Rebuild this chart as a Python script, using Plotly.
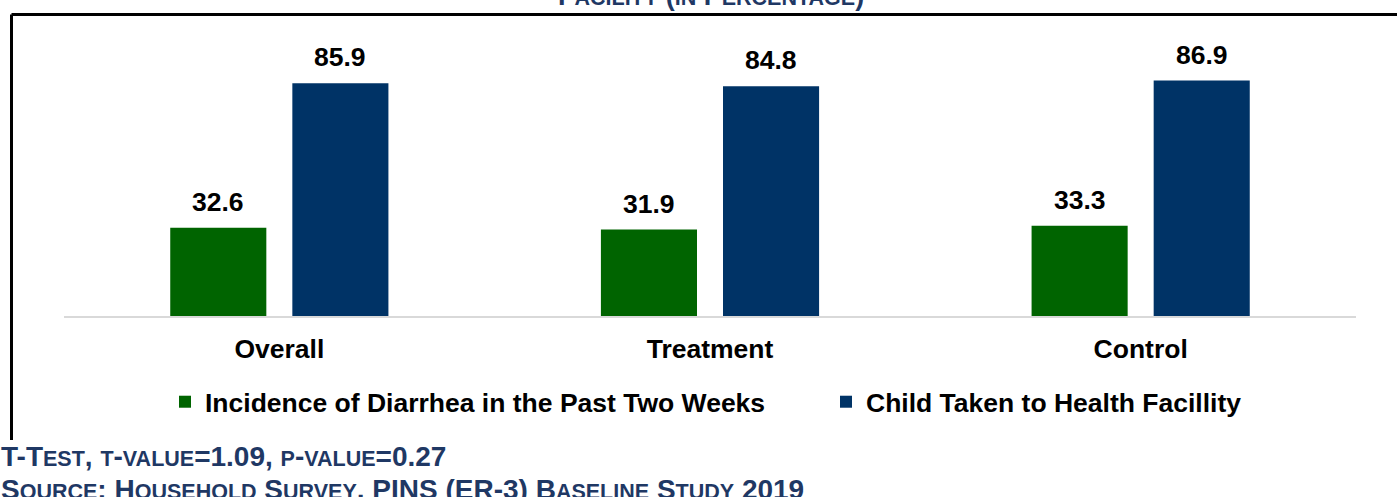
import plotly.graph_objects as go

# Survey results (percent)
categories = ["Overall", "Treatment", "Control"]
diarrhea_incidence = [32.6, 31.9, 33.3]
taken_to_facility = [85.9, 84.8, 86.9]
series_names = ["Incidence of Diarrhea in the Past Two Weeks", "Child Taken to Health Facillity"]

GREEN = "#006400"
NAVY = "#003366"
NOTE_BLUE = "#1F3864"

W, H = 1397, 497
M_L, M_R, M_T, M_B = 64, 41, 45, 181
PLOT_W = W - M_L - M_R
PLOT_H = H - M_T - M_B


def px_x(px):
    """Pixel column -> paper x."""
    return (px - M_L) / PLOT_W


def px_y(py):
    """Pixel row -> paper y."""
    return (H - M_B - py) / PLOT_H


SANS = "Liberation Sans, Arial, sans-serif"
TEXT_SIZE = 26.5
LABEL_FONT = dict(family=SANS, size=TEXT_SIZE, color="black", weight="bold")
NARROW = "Liberation Sans Narrow, Arial Narrow, Liberation Sans, sans-serif"

fig = go.Figure()
fig.add_trace(go.Bar(x=categories, y=diarrhea_incidence, name=series_names[0],
                     marker=dict(color=GREEN, line=dict(width=0)), legend="legend"))
fig.add_trace(go.Bar(x=categories, y=taken_to_facility, name=series_names[1],
                     marker=dict(color=NAVY, line=dict(width=0)), legend="legend2"))

# Value labels above each bar
annotations = []
for series, shift in ((diarrhea_incidence, -61), (taken_to_facility, 61)):
    for cat, val in zip(categories, series):
        annotations.append(dict(x=cat, y=val, xref="x", yref="y", text=f"{val:.1f}",
                                showarrow=False, xshift=shift, yshift=9,
                                yanchor="bottom", font=LABEL_FONT))


def small_caps(text, small):
    out = []
    for ch in text:
        if ch.islower():
            out.append(f'<span style="font-size:{small}px">{ch.upper()}</span>')
        else:
            out.append(ch)
    return "".join(out)


NOTE_BIG, NOTE_SMALL = 28, 21.5
annotations.append(dict(
    x=px_x(711), y=px_y(-4), xref="paper", yref="paper", xanchor="center", yanchor="middle",
    text=small_caps("Facility (in Percentage)", NOTE_SMALL), showarrow=False,
    font=dict(family=NARROW, size=27, color=NOTE_BLUE, weight="bold")))
annotations.append(dict(
    x=px_x(-1), y=px_y(456), xref="paper", yref="paper", xanchor="left", yanchor="middle",
    text=small_caps("T-Test, t-value=1.09, p-value=0.27", NOTE_SMALL), showarrow=False,
    font=dict(family=NARROW, size=NOTE_BIG, color=NOTE_BLUE, weight="bold")))
annotations.append(dict(
    x=px_x(-1), y=px_y(489), xref="paper", yref="paper", xanchor="left", yanchor="middle",
    text=small_caps("Source: Household Survey, PINS (ER-3) Baseline Study 2019", NOTE_SMALL),
    showarrow=False, font=dict(family=NARROW, size=NOTE_BIG, color=NOTE_BLUE, weight="bold")))

# Frame around the chart panel (runs off the right and bottom of the page)
shapes = [
    dict(type="line", xref="paper", yref="paper", x0=px_x(11.5), y0=px_y(14.5),
         x1=px_x(W + 5), y1=px_y(14.5), line=dict(color="black", width=3)),
    dict(type="line", xref="paper", yref="paper", x0=px_x(11.5), y0=px_y(14.5),
         x1=px_x(11.5), y1=px_y(440), line=dict(color="black", width=3)),
]

legend_style = dict(orientation="h", xanchor="left", y=px_y(402), yanchor="middle",
                    font=dict(family=SANS, size=TEXT_SIZE, color="black", weight="bold"),
                    bgcolor="rgba(0,0,0,0)", borderwidth=0)

fig.update_layout(
    width=W, height=H,
    margin=dict(l=M_L, r=M_R, t=M_T, b=M_B, pad=0),
    plot_bgcolor="white", paper_bgcolor="white",
    barmode="group", bargap=0.433, bargroupgap=0.213,
    showlegend=True,
    legend=dict(x=px_x(165), **legend_style),
    legend2=dict(x=px_x(826), **legend_style),
    xaxis=dict(showline=True, linecolor="#d9d9d9", linewidth=2, ticks="",
               tickfont=dict(family=SANS, size=TEXT_SIZE, color="black", weight="bold"),
               ticklabelstandoff=8, showgrid=False, zeroline=False),
    yaxis=dict(range=[0, 100], visible=False, showgrid=False, zeroline=False),
    annotations=annotations,
    shapes=shapes,
)

fig.write_html("out.html")
